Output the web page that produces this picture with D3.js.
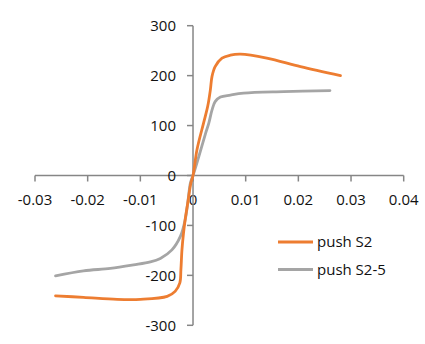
<!DOCTYPE html>
<html>
<head>
<meta charset="utf-8">
<script src="https://cdn.jsdelivr.net/npm/d3@7"></script>
<style>
  html, body { margin: 0; padding: 0; background: #fff; }
  svg { display: block; }
  text { font-family: "Open Sans", sans-serif; font-size: 15px; fill: #111; }
</style>
</head>
<body>
<svg id="chart" width="425" height="344"></svg>
<script>
// Load–displacement curves (x: displacement, y: load)
const seriesNames = ["push S2", "push S2-5"];
const seriesColors = ["#ED7D31", "#A5A5A5"];

const pushS2X = [-0.0261, -0.0208, -0.0144, -0.0100, -0.0049, -0.0034, -0.0025, -0.0023, -0.0021, -0.0018, -0.0015, -0.0010, -0.0004, 0.0000, 0.00076, 0.0020, 0.0028, 0.0033, 0.0036, 0.0042, 0.0055, 0.0071, 0.0090, 0.0140, 0.0204, 0.0280];
const pushS2Y = [-241, -244, -248, -248, -242, -232, -215, -189, -149, -115, -89, -55, -15, 0, 52, 105, 139, 172, 198, 218, 235, 241, 243, 235, 218, 200];

const pushS25X = [-0.0261, -0.0208, -0.0157, -0.0113, -0.0081, -0.0062, -0.0040, -0.0024, -0.0015, -0.0010, -0.0005, 0.0000, 0.0011, 0.0024, 0.0030, 0.0036, 0.0042, 0.0052, 0.0071, 0.0096, 0.0172, 0.0260];
const pushS25Y = [-201, -191, -186, -179, -173, -166, -149, -122, -89, -55, -15, 0, 38, 85, 105, 131, 148, 157, 161, 165, 168, 170];

const xTicks = [-0.03, -0.02, -0.01, 0, 0.01, 0.02, 0.03, 0.04];
const xTickLabels = ["-0.03", "-0.02", "-0.01", "0", "0.01", "0.02", "0.03", "0.04"];
const yTicks = [-300, -200, -100, 0, 100, 200, 300];

const svg = d3.select("#chart");
const x = d3.scaleLinear().domain([-0.03, 0.04]).range([35, 403.7]);
const y = d3.scaleLinear().domain([-300, 300]).range([325.3, 25.7]);

const axisColor = "#868686";

// x axis along y = 0
const xAxis = svg.append("g").attr("transform", `translate(0,${y(0)})`);
xAxis.append("line")
  .attr("x1", x(-0.03)).attr("x2", x(0.04))
  .attr("stroke", axisColor).attr("stroke-width", 1.5);
xAxis.selectAll("line.tick").data(xTicks).join("line")
  .attr("class", "tick")
  .attr("x1", d => x(d)).attr("x2", d => x(d))
  .attr("y1", 0).attr("y2", 6)
  .attr("stroke", axisColor).attr("stroke-width", 1.5);
xAxis.selectAll("text").data(xTicks).join("text")
  .attr("x", d => x(d))
  .attr("y", 29)
  .attr("text-anchor", "middle")
  .text((d, i) => xTickLabels[i]);

// y axis along x = 0
const yAxis = svg.append("g").attr("transform", `translate(${x(0)},0)`);
yAxis.append("line")
  .attr("y1", y(300)).attr("y2", y(-300))
  .attr("stroke", axisColor).attr("stroke-width", 1.5);
yAxis.selectAll("line.tick").data(yTicks).join("line")
  .attr("class", "tick")
  .attr("y1", d => y(d)).attr("y2", d => y(d))
  .attr("x1", -6).attr("x2", 0)
  .attr("stroke", axisColor).attr("stroke-width", 1.5);
yAxis.selectAll("text").data(yTicks).join("text")
  .attr("x", -17)
  .attr("y", d => y(d))
  .attr("dy", "0.36em")
  .attr("text-anchor", "end")
  .text(d => d);

// series
const line = d3.line()
  .x(d => x(d[0]))
  .y(d => y(d[1]))
  .curve(d3.curveCatmullRom.alpha(0.5));

const series = [
  d3.zip(pushS2X, pushS2Y),
  d3.zip(pushS25X, pushS25Y)
];

// gray drawn first so orange sits on top
[1, 0].forEach(i => {
  svg.append("path")
    .datum(series[i])
    .attr("d", line)
    .attr("fill", "none")
    .attr("stroke", seriesColors[i])
    .attr("stroke-width", 2.8)
    .attr("stroke-linejoin", "round")
    .attr("stroke-linecap", "round");
});

// legend
const legend = svg.append("g");
seriesNames.forEach((name, i) => {
  const ly = 242 + i * 27.5;
  legend.append("line")
    .attr("x1", 278).attr("x2", 313)
    .attr("y1", ly).attr("y2", ly)
    .attr("stroke", seriesColors[i]).attr("stroke-width", 2.8);
  legend.append("text")
    .attr("x", 317).attr("y", ly)
    .attr("dy", "0.36em")
    .text(name);
});
</script>
</body>
</html>
